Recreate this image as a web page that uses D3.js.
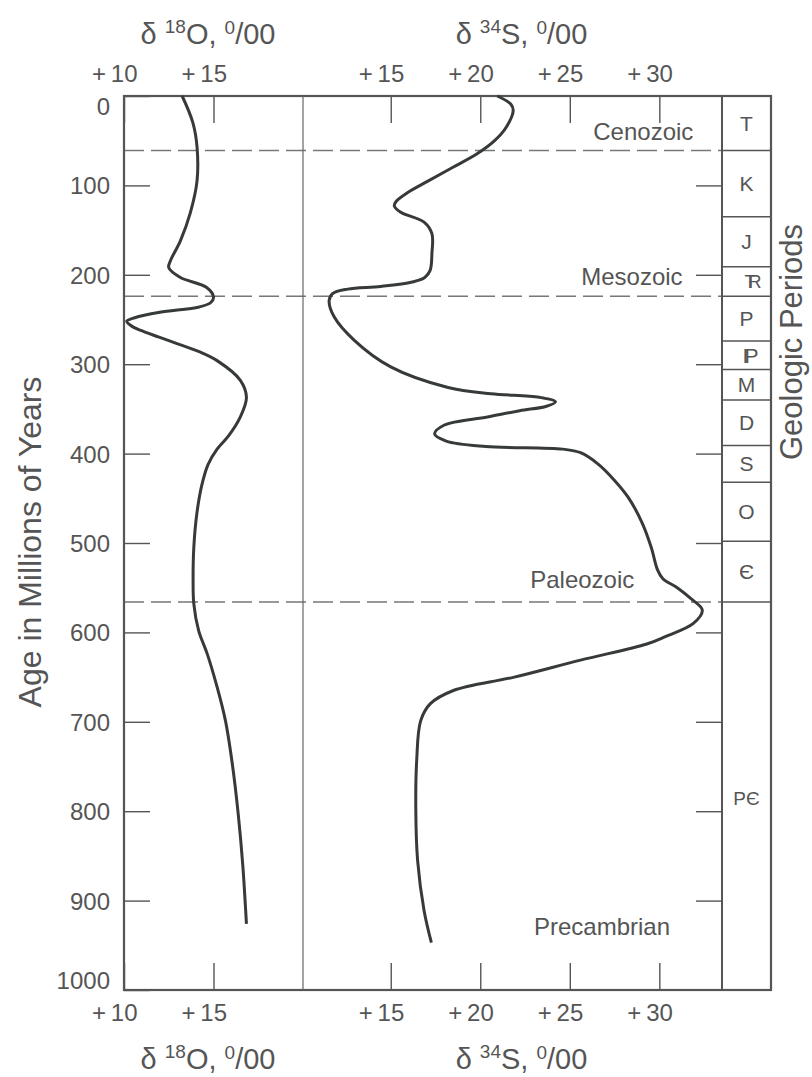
<!DOCTYPE html>
<html>
<head>
<meta charset="utf-8">
<script src="https://cdn.jsdelivr.net/npm/d3@7"></script>
<style>
  body { margin: 0; background: #fff; }
  text { font-family: "Liberation Sans", Arial, Helvetica, sans-serif; fill: #555; }
</style>
</head>
<body>
<div id="chart"></div>
<script>
// values (age in Ma, delta values in per mil)
const ageTicks = [0, 100, 200, 300, 400, 500, 600, 700, 800, 900, 1000];
const o18Ticks = [10, 15];
const s34Ticks = [15, 20, 25, 30];

const o18Age = [0, 30, 57, 95, 131, 162, 184, 192, 203, 214, 225, 231, 236, 242, 248, 252, 257, 262, 270, 277, 286, 296,
    318, 337, 359, 380, 395, 412, 435, 467, 505, 542, 568, 598, 624, 661, 699, 747, 803, 859, 926];
const o18Val = [13.25, 13.85, 14.08, 14.08, 13.7, 13.15, 12.6, 12.5, 13.15, 14.6, 15.0, 14.85, 14.2, 12.0, 10.6, 10.15, 10.4, 10.9, 12.0, 12.96, 14.2, 15.2,
    16.5, 16.84, 16.5, 15.85, 15.2, 14.7, 14.35, 14.07, 13.9, 13.86, 13.9, 14.17, 14.65, 15.2, 15.67, 16.05, 16.38, 16.63, 16.84];

const s34Age = [0, 9, 16, 35, 50, 65, 80, 95, 108, 118, 123, 130, 141, 154, 176, 195, 203, 208, 213, 216, 221, 229, 247, 273, 303,
    326, 333, 337, 342, 347, 352, 359, 368, 378, 386, 392, 395, 399, 412, 430, 450, 478, 505, 530, 540, 550, 562, 575, 590, 605, 613,
    631, 650, 665, 680, 699, 743, 799, 855, 911, 947];
const s34Val = [20.95, 21.7, 21.84, 21.45, 20.8, 19.8, 18.45, 17.1, 15.95, 15.3, 15.2, 15.56, 16.86, 17.3, 17.3, 17.2, 16.9, 16.2, 14.44, 12.6, 11.75, 11.56, 11.84, 12.95, 15.0,
    18.2, 20.6, 23.3, 24.2, 23.7, 22.2, 20.4, 18.0, 17.45, 18.1, 20.3, 24.6, 25.6, 26.6, 27.5, 28.3, 29.05, 29.55, 29.9, 30.2, 31.0, 31.75, 32.4, 31.9, 30.3, 29.3,
    25.6, 21.9, 18.5, 17.2, 16.67, 16.45, 16.4, 16.5, 16.86, 17.27];

// geologic periods (boundaries in Ma)
const periodNames = ["T", "K", "J", "TR", "P", "IP", "M", "D", "S", "O", "\u0404", "P\u0404"];
const periodBounds = [0, 61, 135, 191, 224, 274, 306, 340, 391, 432, 498, 566, 1000];
const precambLabelAge = 785;

// eras
const eraBounds = [61, 224, 566];
const eraNames = ["Cenozoic", "Mesozoic", "Paleozoic", "Precambrian"];
const eraLabelAge = [49, 211, 550, 938];
const eraLabelS34 = [31.9, 31.3, 28.6, 30.6];

// basic setup
const W = 812, H = 1077;
const plot = { left: 124, mid: 303, right: 722, col: 771, top: 96, bottom: 990 };

const svg = d3.select("#chart")
    .append("svg")
    .attr("width", W)
    .attr("height", H);

svg.append("rect").attr("width", W).attr("height", H).attr("fill", "#fff");

// scales
const y = d3.scaleLinear().domain([0, 1000]).range([plot.top, plot.bottom]);
const xO = d3.scaleLinear().domain([10, 20]).range([plot.left, plot.mid]);
const xS = d3.scaleLinear().domain([10.1, 33.5]).range([plot.mid, plot.right]);

const ink = "#555";

// dashed era lines
svg.selectAll(".era-line")
    .data(eraBounds)
    .enter()
    .append("line")
    .attr("class", "era-line")
    .attr("x1", plot.left)
    .attr("x2", plot.right)
    .attr("y1", d => y(d))
    .attr("y2", d => y(d))
    .style("stroke", "#777")
    .style("stroke-width", 1.4)
    .style("stroke-dasharray", "20,7");

// era labels
svg.selectAll(".era-label")
    .data(eraNames)
    .enter()
    .append("text")
    .attr("class", "era-label")
    .attr("x", (d, i) => xS(eraLabelS34[i]))
    .attr("y", (d, i) => y(eraLabelAge[i]))
    .attr("text-anchor", "end")
    .style("font-size", "24px")
    .text(d => d);

// axes
const fmt = d => "+" + d;

function styleAxis(g) {
    g.select(".domain").remove();
    g.selectAll(".tick line").style("stroke", ink).style("stroke-width", 1.4);
    g.selectAll(".tick text").style("font-size", "24px").style("fill", ink)
        .style("font-family", "'Liberation Sans', Arial, Helvetica, sans-serif");
}

const yLeft = svg.append("g")
    .attr("transform", `translate(${plot.left},0)`)
    .call(d3.axisLeft(y).tickValues(ageTicks).tickFormat(d3.format("d"))
        .tickSizeInner(-26).tickSizeOuter(0).tickPadding(14))
    .call(styleAxis);
// top and bottom labels sit inside the frame
yLeft.selectAll(".tick text")
    .attr("dy", d => d === 0 ? "0.75em" : d === 1000 ? "-0.05em" : "0.35em");

svg.append("g")
    .attr("transform", `translate(${plot.right},0)`)
    .call(d3.axisRight(y).tickValues(ageTicks.slice(1, -1)).tickSizeInner(-26).tickSizeOuter(0).tickFormat(""))
    .call(styleAxis);

[[plot.top, d3.axisTop], [plot.bottom, d3.axisBottom]].forEach(([yy, ax]) => {
    svg.append("g")
        .attr("transform", `translate(0,${yy})`)
        .call(ax(xO).tickValues(o18Ticks).tickSizeInner(-27).tickSizeOuter(0).tickPadding(14).tickFormat(fmt))
        .call(styleAxis);
    svg.append("g")
        .attr("transform", `translate(0,${yy})`)
        .call(ax(xS).tickValues(s34Ticks).tickSizeInner(-27).tickSizeOuter(0).tickPadding(14).tickFormat(fmt))
        .call(styleAxis);
});
svg.selectAll(".tick text").filter(function() { return this.textContent.startsWith("+"); })
    .attr("text-anchor", "end")
    .attr("dx", 13)
    .text(function() { return this.textContent.replace("+", "+\u2009"); });

// frame
svg.append("rect")
    .attr("x", plot.left).attr("y", plot.top)
    .attr("width", plot.col - plot.left).attr("height", plot.bottom - plot.top)
    .style("fill", "none").style("stroke", ink).style("stroke-width", 2.2);

svg.append("line")
    .attr("x1", plot.mid).attr("x2", plot.mid)
    .attr("y1", plot.top).attr("y2", plot.bottom)
    .style("stroke", "#666").style("stroke-width", 1.2);

svg.append("line")
    .attr("x1", plot.right).attr("x2", plot.right)
    .attr("y1", plot.top).attr("y2", plot.bottom)
    .style("stroke", ink).style("stroke-width", 2);

// period column
svg.selectAll(".period-line")
    .data(periodBounds.slice(1, -1))
    .enter()
    .append("line")
    .attr("class", "period-line")
    .attr("x1", plot.right).attr("x2", plot.col)
    .attr("y1", d => y(d)).attr("y2", d => y(d))
    .style("stroke", ink).style("stroke-width", 1.5);

const colMid = (plot.right + plot.col) / 2;
periodNames.forEach((name, i) => {
    const age = name === "P\u0404" ? precambLabelAge : (periodBounds[i] + periodBounds[i + 1]) / 2;
    const t = svg.append("text")
        .attr("x", colMid)
        .attr("y", y(age))
        .attr("dy", "0.36em")
        .attr("text-anchor", "middle")
        .style("font-size", name === "P\u0404" ? "19px" : "21px")
        .text(name);
    // triassic and pennsylvanian symbols are drawn as squeezed letter pairs
    if (name === "TR") t.style("font-size", "18px").style("letter-spacing", "-7px").attr("dx", 3);
    if (name === "IP") t.style("letter-spacing", "-4px").attr("dx", 2);
});

// curves
const line = d3.line()
    .x(d => d[0])
    .y(d => d[1])
    .curve(d3.curveCatmullRom.alpha(0.5));

svg.append("path")
    .attr("d", line(o18Age.map((a, i) => [xO(o18Val[i]), y(a)])))
    .style("fill", "none")
    .style("stroke", "#363a38")
    .style("stroke-width", 3);

svg.append("path")
    .attr("d", line(s34Age.map((a, i) => [xS(s34Val[i]), y(a)])))
    .style("fill", "none")
    .style("stroke", "#363a38")
    .style("stroke-width", 3);

// titles
function deltaTitle(cx, by, iso, el) {
    const t = svg.append("text")
        .attr("x", cx)
        .attr("y", by)
        .attr("text-anchor", "middle")
        .style("font-size", "29px");
    t.append("tspan").text("\u03b4 ");
    t.append("tspan").attr("dy", -11).style("font-size", "19px").text(iso);
    t.append("tspan").attr("dy", 11).text(el + ", ");
    t.append("tspan").attr("dy", -10).style("font-size", "19px").text("0");
    t.append("tspan").attr("dy", 10).text("/00");
}
deltaTitle((plot.left + 292) / 2, 44, "18", "O");
deltaTitle((plot.mid + 740) / 2, 44, "34", "S");
deltaTitle((plot.left + 292) / 2, 1069, "18", "O");
deltaTitle((plot.mid + 740) / 2, 1069, "34", "S");

svg.append("text")
    .attr("transform", `translate(41,542) rotate(-90)`)
    .attr("text-anchor", "middle")
    .style("font-size", "32px")
    .text("Age in Millions of Years");

svg.append("text")
    .attr("transform", `translate(802,342) rotate(-90)`)
    .attr("text-anchor", "middle")
    .style("font-size", "31px")
    .text("Geologic Periods");
</script>
</body>
</html>
